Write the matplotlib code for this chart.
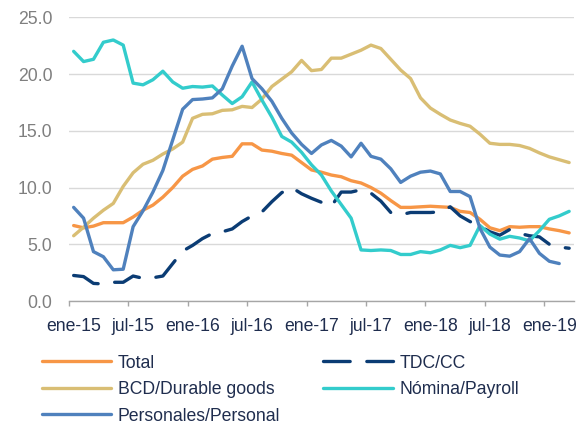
import matplotlib
matplotlib.use("Agg")
import matplotlib.pyplot as plt
import numpy as np

plt.rcParams['font.family'] = ['Liberation Sans', 'DejaVu Sans']

# ---- data (monthly, ene-15 .. mar-19) ----
tick_labels = ['ene-15', 'jul-15', 'ene-16', 'jul-16', 'ene-17',
               'jul-17', 'ene-18', 'jul-18', 'ene-19']

total = [6.65, 6.45, 6.6, 6.9, 6.9, 6.9, 7.4, 8.0, 8.45, 9.15,
         10.0, 11.0, 11.6, 11.9, 12.5, 12.65, 12.75, 13.85, 13.85, 13.3,
         13.2, 13.0, 12.85, 12.2, 11.55, 11.35, 11.1, 10.95, 10.6, 10.4,
         10.0, 9.5, 8.85, 8.25, 8.25, 8.3, 8.35, 8.3, 8.25, 7.9,
         7.8, 7.2, 6.45, 6.2, 6.55, 6.5, 6.55, 6.55, 6.35, 6.2, 6.0]

tdc = [2.25, 2.15, 1.55, 1.5, 1.65, 1.65, 2.2, 2.0, 2.05, 2.2,
       3.3, 4.4, 4.9, 5.5, 5.95, 6.1, 6.35, 7.0, 7.5, 7.85,
       8.75, 9.55, 10.0, 9.45, 9.05, 8.7, 8.35, 9.6, 9.6, 9.8,
       9.5, 8.8, 7.8, 7.6, 7.8, 7.8, 7.8, 7.85, 8.3, 7.5,
       7.0, 6.6, 6.1, 5.8, 6.3, 5.95, 5.75, 5.65, 5.0, 4.75, 4.65]

bcd = [5.75, 6.5, 7.3, 8.0, 8.6, 10.1, 11.3, 12.05, 12.4, 12.95,
       13.4, 14.0, 16.1, 16.45, 16.5, 16.8, 16.85, 17.15, 17.05, 17.8,
       18.9, 19.55, 20.2, 21.2, 20.3, 20.4, 21.4, 21.4, 21.75, 22.1,
       22.55, 22.25, 21.3, 20.35, 19.6, 17.9, 17.0, 16.45, 15.95, 15.65,
       15.4, 14.7, 13.9, 13.8, 13.8, 13.7, 13.45, 13.05, 12.7, 12.45, 12.2]

nomina = [22.0, 21.1, 21.3, 22.8, 23.0, 22.55, 19.2, 19.05, 19.5, 20.25,
          19.3, 18.75, 18.9, 18.85, 18.95, 18.15, 17.4, 18.0, 19.3, 17.7,
          16.2, 14.5, 14.0, 13.1, 12.0, 11.1, 9.7, 8.5, 7.3, 4.5,
          4.45, 4.5, 4.45, 4.1, 4.1, 4.35, 4.25, 4.5, 4.9, 4.7,
          4.9, 6.65, 5.9, 5.45, 5.7, 5.55, 5.3, 6.2, 7.2, 7.5, 7.9]

personal = [8.25, 7.3, 4.35, 3.9, 2.75, 2.8, 6.55, 7.95, 9.6, 11.5,
            14.2, 16.9, 17.75, 17.8, 17.9, 18.7, 20.7, 22.45, 19.6, 18.7,
            17.6, 16.1, 14.8, 13.8, 13.0, 13.75, 14.15, 13.65, 12.7, 13.9,
            12.75, 12.5, 11.65, 10.45, 11.0, 11.35, 11.45, 11.2, 9.65, 9.65,
            9.2, 6.4, 4.75, 4.05, 3.95, 4.35, 5.5, 4.2, 3.5, 3.3]

n_months = len(total)

# ---- figure ----
W, H = 580, 425
fig = plt.figure(figsize=(W / 100, H / 100), dpi=100)
ax = fig.add_axes([68.7 / W, 1 - 301 / H, 505.4 / W, 283.7 / H])

lw = 2.4
kw = dict(lw=lw, solid_joinstyle='round', solid_capstyle='round')
c_total, c_tdc, c_bcd, c_nom, c_per = '#F79646', '#0B3C74', '#D9BE74', '#33CCCC', '#4F81BD'

x = np.arange(n_months)
l_total, = ax.plot(x, total, color=c_total, label='Total', **kw)
l_tdc, = ax.plot(x, tdc, color=c_tdc, label='TDC/CC', lw=lw,
                 linestyle=(0, (8.0, 5.0)), dash_capstyle='round',
                 dash_joinstyle='round')
l_bcd, = ax.plot(x, bcd, color=c_bcd, label='BCD/Durable goods', **kw)
l_nom, = ax.plot(x, nomina, color=c_nom, label='Nómina/Payroll', **kw)
l_per, = ax.plot(np.arange(len(personal)), personal, color=c_per,
                 label='Personales/Personal', **kw)

ax.set_xlim(-0.5, n_months - 0.5)
ax.set_ylim(0, 25)
ax.set_yticks(np.arange(0, 25.1, 5))
ax.set_yticklabels([f'{v:.1f}' for v in np.arange(0, 25.1, 5)])
ax.yaxis.grid(True, color='#D9D9D9', lw=1.0)
ax.set_axisbelow(True)

ax.set_xticks(np.arange(-0.5, n_months - 1, 6))
ax.set_xticklabels([])
ax.set_xticks(np.arange(0, n_months, 6), minor=True)
ax.set_xticklabels(tick_labels, minor=True)

for s in ['left', 'right', 'top']:
    ax.spines[s].set_visible(False)
ax.spines['bottom'].set_color('#A6A6A6')
ax.spines['bottom'].set_linewidth(1.0)

ax.tick_params(axis='y', length=0, pad=11.8, labelsize=12.7, labelcolor='#7F7F7F')
ax.tick_params(axis='x', which='major', length=3.6, width=1.0, color='#A6A6A6', direction='out')
ax.tick_params(axis='x', which='minor', length=0, pad=12.0, labelsize=12.7, labelcolor='#1F2D4E')

leg_kw = dict(loc='upper left', frameon=False, fontsize=12.7, handlelength=3.95,
              handletextpad=0.35, labelspacing=0.54, borderpad=0, borderaxespad=0,
              labelcolor='#1F2D4E')
leg1 = fig.legend(handles=[l_total, l_bcd, l_per],
                  bbox_to_anchor=(41.7 / W, 1 - 354.5 / H), **leg_kw)
leg2 = fig.legend(handles=[l_tdc, l_nom],
                  bbox_to_anchor=(323.3 / W, 1 - 354.5 / H), **leg_kw)

fig.savefig('out.png', dpi=100)
